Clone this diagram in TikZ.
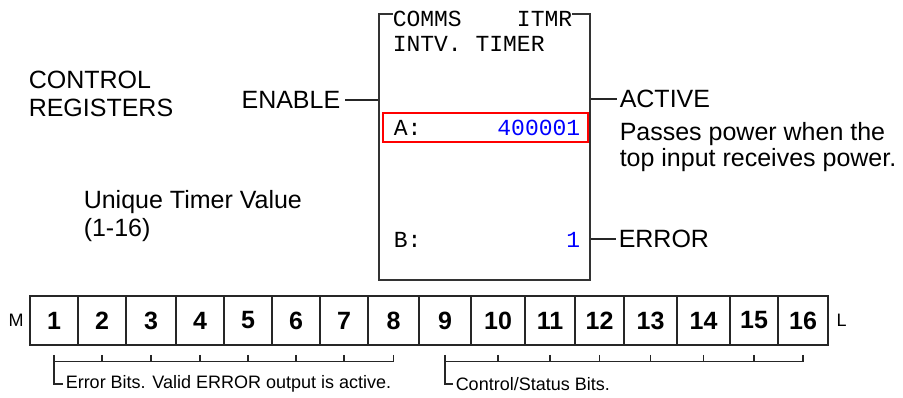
\documentclass[tikz,border=0pt]{standalone}
\usepackage{fontspec}
\setmainfont{Liberation Sans}
\newfontfamily\plcmono{Liberation Mono}
\usetikzlibrary{positioning}

\begin{document}
\begin{tikzpicture}[x=1pt,y=-1pt,line width=1.5pt,
  lbl/.style={font=\fontsize{25}{28}\selectfont,inner sep=0pt},
  small/.style={font=\fontsize{18}{20}\selectfont,inner sep=0pt},
  mono/.style={font=\plcmono\fontsize{23}{25}\selectfont,inner sep=0pt},
  bitcell/.style={draw=black!85,minimum height=49pt,inner sep=0pt,font=\bfseries\fontsize{25}{25}\selectfont},
  wire/.style={draw=black!85,line width=1.5pt},
  tick/.style={draw=black!85,line width=1.2pt}]
  \useasboundingbox (0,0) rectangle (903,397);
  % bloque ITMR
  \node[draw=black!80,minimum width=211pt,minimum height=266pt] (itmr) at (484.5,147) {};
  \node[mono,fill=white,anchor=west] (title) at (392,19) {COMMS\ \ \ \ ITMR};
  \node[mono,anchor=west] (intv) at (392,44) {INTV. TIMER};
  \node[draw=red,minimum width=205pt,minimum height=29pt,inner sep=0pt] (regA) at (485.5,127.5) {};
  \node[mono,anchor=west] (Alabel) at (393,127.5) {A:};
  \node[mono,anchor=east,text=blue] (Aval) at (581,127.5) {400001};
  \node[mono,anchor=west] (Blabel) at (393,240) {B:};
  \node[mono,anchor=east,text=blue] (Bval) at (581,240) {1};
  % entradas y salidas
  \node[lbl,anchor=east] (enable) at (341,100) {ENABLE};
  \draw[wire] ([xshift=4pt]enable.east) -- (enable.east -| itmr.west);
  \node[lbl,anchor=west] (active) at (619,99) {ACTIVE};
  \draw[wire] (active.west -| itmr.east) -- ([xshift=-2pt]active.west);
  \node[lbl,font=\fontsize{25}{26}\selectfont,anchor=north west,align=left] (note) at (619,122) {Passes power when the\\top input receives power.};
  \node[lbl,anchor=west] (error) at (618,239) {ERROR};
  \draw[wire] (error.west -| itmr.east) -- ([xshift=-2pt]error.west);
  \node[lbl,anchor=north west,align=left] (ctrlregs) at (28,70) {CONTROL\\REGISTERS};
  \node[lbl,anchor=north west,align=left] (unique) at (83,190) {Unique Timer Value\\(1-16)};
  % registro de 16 bits
  \foreach \n/\xa/\xb in {1/30/78,2/78/126,3/126/176,4/176/224,5/224/272,6/272/320,7/320/368,8/368/419,
      9/419/471,10/471/525,11/525/575,12/575/624,13/624/677,14/677/730,15/730/778,16/778/828}
    \node[bitcell,minimum width={\xb-\xa}] (bit\n) at ({(\xa+\xb)/2},320.5) {\n};
  \node[small,left=5pt of bit1] (msb) {M};
  \node[small,right=7pt of bit16] (lsb) {L};
  % llaves
  \node[small,anchor=west] (errbits) at (65,384) {Error Bits. Valid ERROR output is active.};
  \draw[tick] ([yshift=-9pt]bit8.south) -- ([yshift=-16pt]bit8.south) -- ([yshift=-16pt]bit1.south);
  \draw[tick] ([yshift=-9pt]bit1.south) -- (errbits.west -| bit1.south) -- ([xshift=-2pt]errbits.west);
  \foreach \n in {2,...,7}
    \draw[tick] ([yshift=-9pt]bit\n.south) -- ([yshift=-16pt]bit\n.south);
  \node[small,anchor=west] (ctrlbits) at (455,384) {Control/Status Bits.};
  \draw[tick] ([yshift=-9pt]bit16.south) -- ([yshift=-16pt]bit16.south) -- ([yshift=-16pt]bit9.south);
  \draw[tick] ([yshift=-9pt]bit9.south) -- (ctrlbits.west -| bit9.south) -- ([xshift=-2pt]ctrlbits.west);
  \foreach \n in {10,...,15}
    \draw[tick] ([yshift=-9pt]bit\n.south) -- ([yshift=-16pt]bit\n.south);
\end{tikzpicture}
\end{document}
